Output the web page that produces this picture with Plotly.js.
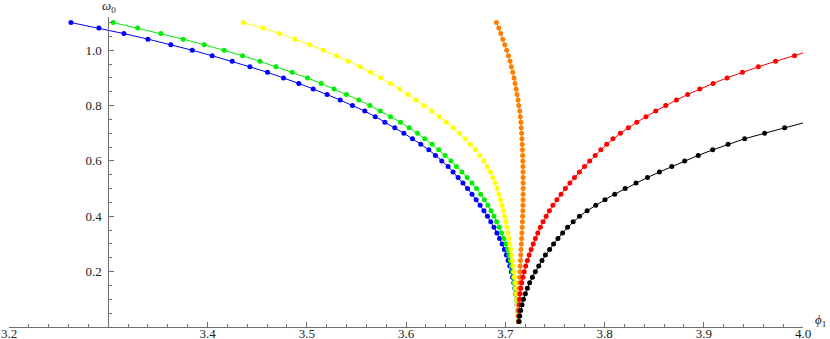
<!DOCTYPE html>
<html>
<head>
<meta charset="utf-8">
<script src="https://cdn.plot.ly/plotly-3.0.1.min.js"></script>
<style>
  html, body { margin: 0; padding: 0; background: #fff; }
  #chart { width: 830px; height: 339px; }
</style>
</head>
<body>
<div id="chart"></div>
<script>
// omega_0 sample levels (shared by all series, top to bottom)
const omegaGrid = [
    1.10, 1.08, 1.06, 1.04, 1.02, 1.00, 0.98, 0.96, 0.94, 0.92,
    0.90, 0.88, 0.86, 0.84, 0.82, 0.80, 0.78, 0.76, 0.74, 0.72,
    0.70, 0.68, 0.66, 0.64, 0.62, 0.60, 0.58, 0.56, 0.54, 0.52,
    0.50, 0.48, 0.46, 0.44, 0.42, 0.40, 0.38, 0.36, 0.34, 0.32,
    0.30, 0.28, 0.26, 0.24, 0.22, 0.20, 0.18, 0.16, 0.14, 0.12,
    0.10, 0.08, 0.06, 0.04, 0.02
];

// phi_1 values, one per omega level (each list ends at 0.02)
const bluePhi = [
    3.2624, 3.2906, 3.3158, 3.3400, 3.3630, 3.3846, 3.4047, 3.4249, 3.4427, 3.4605,
    3.4766, 3.4920, 3.5065, 3.5205, 3.5337, 3.5460, 3.5585, 3.5690, 3.5787, 3.5887,
    3.5978, 3.6065, 3.6149, 3.6230, 3.6297, 3.6360, 3.6424, 3.6474, 3.6525, 3.6574,
    3.6620, 3.6665, 3.6707, 3.6747, 3.6785, 3.6821, 3.6854, 3.6886, 3.6916, 3.6943,
    3.6969, 3.6991, 3.7011, 3.7029, 3.7046, 3.7061, 3.7074, 3.7086, 3.7097, 3.7106,
    3.7114, 3.7120, 3.7126, 3.7131, 3.7134
];
const greenPhi = [
    3.3050, 3.3296, 3.3530, 3.3756, 3.3967, 3.4168, 3.4353, 3.4528, 3.4690, 3.4853,
    3.5008, 3.5145, 3.5276, 3.5400, 3.5525, 3.5636, 3.5740, 3.5844, 3.5945, 3.6031,
    3.6116, 3.6189, 3.6263, 3.6330, 3.6394, 3.6454, 3.6508, 3.6564, 3.6616, 3.6665,
    3.6711, 3.6752, 3.6790, 3.6825, 3.6857, 3.6887, 3.6914, 3.6939, 3.6962, 3.6986,
    3.7008, 3.7023, 3.7037, 3.7050, 3.7062, 3.7073, 3.7083, 3.7092, 3.7100, 3.7108,
    3.7115, 3.7121, 3.7127, 3.7131, 3.7135
];
const yellowPhi = [
    3.4360, 3.4558, 3.4723, 3.4880, 3.5031, 3.5166, 3.5300, 3.5417, 3.5538, 3.5643,
    3.5746, 3.5844, 3.5935, 3.6021, 3.6102, 3.6182, 3.6259, 3.6334, 3.6405, 3.6473,
    3.6537, 3.6596, 3.6650, 3.6699, 3.6743, 3.6783, 3.6819, 3.6851, 3.6876, 3.6898,
    3.6918, 3.6936, 3.6952, 3.6967, 3.6981, 3.6994, 3.7006, 3.7017, 3.7027, 3.7037,
    3.7046, 3.7055, 3.7063, 3.7071, 3.7078, 3.7085, 3.7092, 3.7098, 3.7104, 3.7110,
    3.7116, 3.7121, 3.7126, 3.7131, 3.7135
];
const orangePhi = [
    3.6911, 3.6935, 3.6955, 3.6975, 3.6995, 3.7015, 3.7032, 3.7048, 3.7062, 3.7075,
    3.7089, 3.7099, 3.7109, 3.7119, 3.7129, 3.7136, 3.7146, 3.7152, 3.7157, 3.7161,
    3.7165, 3.7168, 3.7171, 3.7173, 3.7175, 3.7177, 3.7178, 3.7179, 3.7180, 3.7180,
    3.7180, 3.7180, 3.7179, 3.7178, 3.7177, 3.7175, 3.7173, 3.7171, 3.7168, 3.7165,
    3.7162, 3.7159, 3.7156, 3.7153, 3.7150, 3.7148, 3.7146, 3.7144, 3.7142, 3.7140,
    3.7139, 3.7138, 3.7137, 3.7136, 3.7136
];
// red starts at omega 0.98
const redPhi = [
    3.9915, 3.9724, 3.9550, 3.9390, 3.9235, 3.9094, 3.8960, 3.8838, 3.8725, 3.8617,
    3.8516, 3.8418, 3.8325, 3.8240, 3.8160, 3.8085, 3.8022, 3.7963, 3.7906, 3.7851,
    3.7798, 3.7747, 3.7698, 3.7651, 3.7606, 3.7562, 3.7520, 3.7480, 3.7445, 3.7412,
    3.7381, 3.7354, 3.7328, 3.7304, 3.7282, 3.7261, 3.7241, 3.7223, 3.7206, 3.7191,
    3.7178, 3.7166, 3.7157, 3.7150, 3.7145, 3.7141, 3.7138, 3.7137, 3.7136
];
// black starts at omega 0.72
const blackPhi = [
    3.9815, 3.9613, 3.9412, 3.9245, 3.9090, 3.8945, 3.8808, 3.8678, 3.8553, 3.8433,
    3.8318, 3.8208, 3.8103, 3.8005, 3.7912, 3.7825, 3.7748, 3.7684, 3.7628, 3.7578,
    3.7531, 3.7487, 3.7447, 3.7404, 3.7370, 3.7337, 3.7303, 3.7273, 3.7246, 3.7223,
    3.7203, 3.7183, 3.7169, 3.7156, 3.7146, 3.7139
];

// the fitted curves run on to the frame edge past the last dot
const redLineEnd = [4.0, 0.99];
const blackLineEnd = [4.0, 0.737];

const xTickVals = [3.2, 3.4, 3.5, 3.6, 3.7, 3.8, 3.9, 4.0];
const yTickVals = [0.2, 0.4, 0.6, 0.8, 1.0];

const seriesList = [
    { phi: bluePhi, color: '#0000ff', end: null },
    { phi: greenPhi, color: '#00ee00', end: null },
    { phi: yellowPhi, color: '#ffff00', end: null },
    { phi: orangePhi, color: '#ff8000', end: null },
    { phi: redPhi, color: '#ff0000', end: redLineEnd },
    { phi: blackPhi, color: '#000000', end: blackLineEnd }
];

function buildTraces() {
    const lines = [];
    const dots = [];
    for (const s of seriesList) {
        const omega = omegaGrid.slice(omegaGrid.length - s.phi.length);
        const lx = s.end ? [s.end[0], ...s.phi] : s.phi.slice();
        const ly = s.end ? [s.end[1], ...omega] : omega.slice();
        lines.push({
            type: 'scatter', mode: 'lines', x: lx, y: ly,
            line: { color: s.color, width: 1 }, hoverinfo: 'skip', cliponaxis: false
        });
        dots.push({
            type: 'scatter', mode: 'markers', x: s.phi, y: omega,
            marker: { color: s.color, size: 5, line: { width: 0 } }, cliponaxis: false
        });
    }
    return lines.concat(dots);
}

const serif = 'Liberation Serif, Times New Roman, serif';
const axisCol = '#6e6e6e';
const labelFont = { family: serif, size: 13, color: '#222' };

const layout = {
    width: 830,
    height: 339,
    margin: { l: 9, r: 27, t: 17, b: 12, pad: 0 },
    paper_bgcolor: '#fff',
    plot_bgcolor: '#fff',
    showlegend: false,
    font: labelFont,
    xaxis: {
        range: [3.2, 4.0],
        showgrid: false, zeroline: false,
        showline: true, linecolor: axisCol, linewidth: 1,
        ticks: 'inside', ticklen: 5, tickcolor: axisCol, tickwidth: 1,
        tickvals: xTickVals,
        ticktext: xTickVals.map(v => v.toFixed(1)),
        tickfont: labelFont,
        ticklabelstandoff: -6,
        minor: { ticks: 'inside', dtick: 0.02, ticklen: 3, tickcolor: axisCol, showgrid: false },
        fixedrange: true
    },
    yaxis: {
        range: [0, 1.12],
        anchor: 'free', position: 0.125, side: 'left',
        showgrid: false, zeroline: false,
        showline: true, linecolor: axisCol, linewidth: 1,
        ticks: 'inside', ticklen: 5, tickcolor: axisCol, tickwidth: 1,
        tickvals: yTickVals,
        ticktext: yTickVals.map(v => v.toFixed(1)),
        tickfont: labelFont,
        ticklabelstandoff: 4,
        minor: { ticks: 'inside', dtick: 0.05, ticklen: 3, tickcolor: axisCol, showgrid: false },
        fixedrange: true
    },
    annotations: [
        {
            xref: 'paper', yref: 'paper', x: 0.126, y: 1.035,
            text: '<i>ω</i><sub>0</sub>', showarrow: false,
            xanchor: 'center', yanchor: 'middle',
            font: labelFont
        },
        {
            xref: 'paper', yref: 'paper', x: 1.0225, y: 0.02,
            text: '<i>ϕ</i><sub>1</sub>', showarrow: false,
            xanchor: 'center', yanchor: 'middle',
            font: labelFont
        }
    ]
};

Plotly.newPlot('chart', buildTraces(), layout, { displayModeBar: false, staticPlot: true });
</script>
</body>
</html>
